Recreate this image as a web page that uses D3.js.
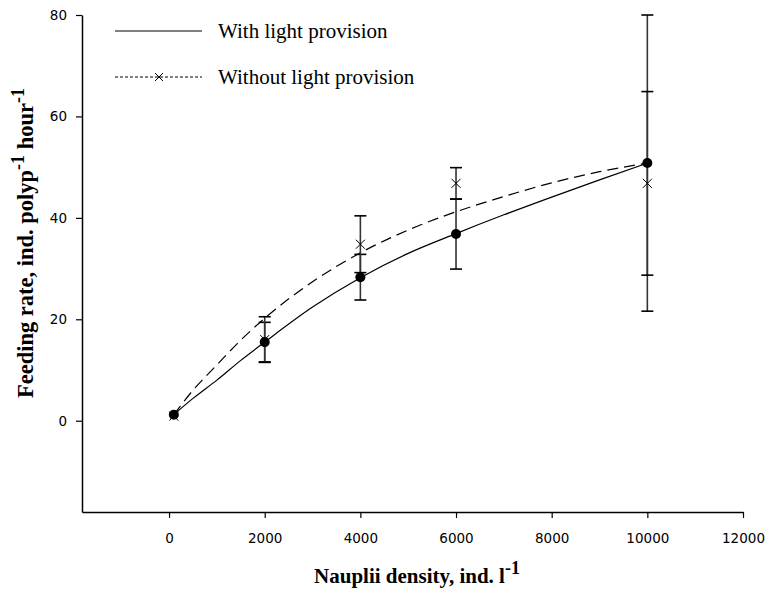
<!DOCTYPE html>
<html><head><meta charset="utf-8">
<script src="https://cdn.jsdelivr.net/npm/d3@7"></script>
<style>body{margin:0;background:#fff}</style>
</head><body>
<svg id="c" width="765" height="589"></svg>
<script>
// Data
const densities = [100, 2000, 4000, 6000, 10000];
const withLight = [1.2, 15.5, 28.3, 36.8, 50.8];
const withLightErr = [0.4, 3.9, 4.5, 6.9, 29.2];
const withoutLight = [0.9, 16.0, 34.8, 46.8, 46.8];
const withoutLightErr = [0.4, 4.5, 5.6, 3.1, 18.1];

const curveX = [100, 500, 1000, 1500, 2000, 3000, 4000, 5000, 6000, 7000, 8000, 9000, 10000];
const curveWith = [1.2, 4.4, 8.0, 11.9, 15.5, 22.4, 28.2, 33.0, 36.9, 40.6, 44.1, 47.5, 50.8];
const curveWithout = [1.2, 6.0, 11.0, 15.9, 20.2, 27.4, 33.1, 37.6, 41.2, 44.2, 46.9, 49.1, 50.8];

const xTicks = [0, 2000, 4000, 6000, 8000, 10000, 12000];
const yTicks = [0, 20, 40, 60, 80];
const legendLabels = ["With light provision", "Without light provision"];

const svg = d3.select("#c");
const x = d3.scaleLinear().domain([-1820, 12000]).range([82, 743]);
const y = d3.scaleLinear().domain([-18, 80]).range([512, 15]);

// axes
const xAxis = d3.axisBottom(x).tickValues(xTicks).tickSize(6).tickPadding(15).tickSizeOuter(0).tickFormat(d3.format("d"));
const yAxis = d3.axisLeft(y).tickValues(yTicks).tickSize(6).tickPadding(9).tickSizeOuter(0);
const gx = svg.append("g").attr("transform", "translate(0,512)").call(xAxis);
const gy = svg.append("g").attr("transform", "translate(82,0)").call(yAxis);
[gx, gy].forEach(g => {
  g.select(".domain").attr("stroke", "#000").attr("stroke-width", 1.5);
  g.selectAll(".tick line").attr("stroke", "#000").attr("stroke-width", 1.2);
  g.selectAll(".tick text").attr("font-family", "DejaVu Sans").attr("font-size", 13.5).attr("fill", "#000");
});

// curves
const line = d3.line().x(d => x(d[0])).y(d => y(d[1])).curve(d3.curveMonotoneX);
svg.append("path").datum(curveX.map((v, i) => [v, curveWith[i]]))
  .attr("d", line).attr("fill", "none").attr("stroke", "#000").attr("stroke-width", 1.2);
svg.append("path").datum(curveX.map((v, i) => [v, curveWithout[i]]))
  .attr("d", line).attr("fill", "none").attr("stroke", "#000").attr("stroke-width", 1.2)
  .attr("stroke-dasharray", "11,6");

// error bars
function errBars(vals, errs) {
  const g = svg.append("g").attr("stroke", "#333").attr("stroke-width", 1.6);
  densities.forEach((d, i) => {
    if (errs[i] < 1) return;
    const cx = x(d), t = y(vals[i] + errs[i]), b = y(vals[i] - errs[i]);
    g.append("line").attr("x1", cx).attr("x2", cx).attr("y1", t).attr("y2", b);
    g.append("line").attr("x1", cx - 6).attr("x2", cx + 6).attr("y1", t).attr("y2", t).attr("stroke", "#000");
    g.append("line").attr("x1", cx - 6).attr("x2", cx + 6).attr("y1", b).attr("y2", b).attr("stroke", "#000");
  });
}
errBars(withLight, withLightErr);
errBars(withoutLight, withoutLightErr);

// markers
function cross(g, cx, cy, s) {
  g.append("path").attr("d", `M${cx - s},${cy - s}L${cx + s},${cy + s}M${cx - s},${cy + s}L${cx + s},${cy - s}`)
    .attr("stroke", "#000").attr("stroke-width", 1).attr("fill", "none");
}
const gm = svg.append("g");
densities.forEach((d, i) => cross(gm, x(d), y(withoutLight[i]), 4.5));
densities.forEach((d, i) => gm.append("circle").attr("cx", x(d)).attr("cy", y(withLight[i])).attr("r", 5).attr("fill", "#000"));

// legend
const lg = svg.append("g");
lg.append("line").attr("x1", 115).attr("x2", 202).attr("y1", 31).attr("y2", 31).attr("stroke", "#000").attr("stroke-width", 1.2);
lg.append("line").attr("x1", 115).attr("x2", 202).attr("y1", 77).attr("y2", 77).attr("stroke", "#000").attr("stroke-width", 1).attr("stroke-dasharray", "3,2");
cross(lg, 159, 77, 4);
lg.selectAll("text.leg").data(legendLabels).enter().append("text")
  .attr("x", 218).attr("y", (d, i) => 38 + i * 46)
  .attr("font-family", "Liberation Serif").attr("font-size", 21).attr("fill", "#000").text(d => d);

// axis titles
const xt = svg.append("text").attr("x", 417).attr("y", 583).attr("text-anchor", "middle")
  .attr("font-family", "Liberation Serif").attr("font-weight", "bold").attr("font-size", 21).attr("fill", "#000");
xt.append("tspan").text("Nauplii density, ind. l");
xt.append("tspan").attr("dy", -9).attr("font-size", 18).text("-1");

const yt = svg.append("text").attr("transform", "translate(33,243) rotate(-90)").attr("text-anchor", "middle")
  .attr("font-family", "Liberation Serif").attr("font-weight", "bold").attr("font-size", 22.5).attr("fill", "#000");
yt.append("tspan").text("Feeding rate, ind. polyp");
yt.append("tspan").attr("dy", -9).attr("font-size", 18).text("-1");
yt.append("tspan").attr("dy", 9).text(" hour");
yt.append("tspan").attr("dy", -9).attr("font-size", 18).text("-1");
</script>
</body></html>
